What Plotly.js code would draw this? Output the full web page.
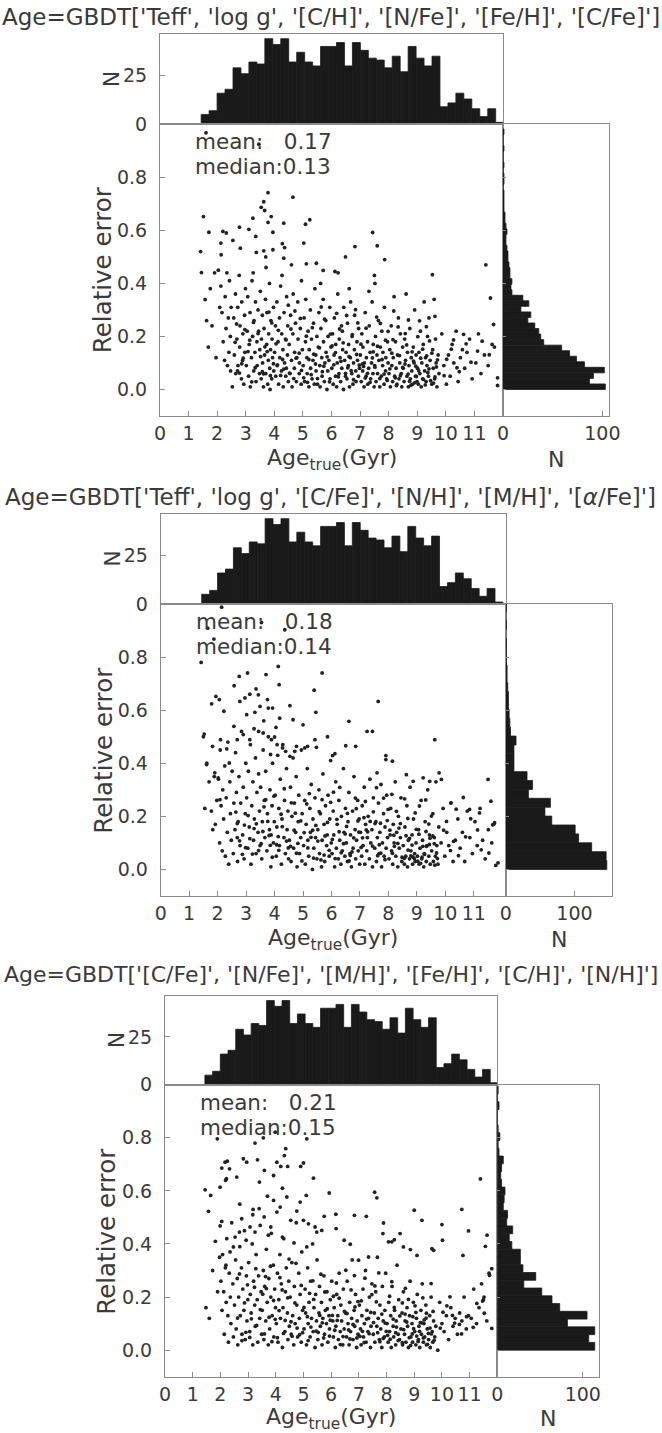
<!DOCTYPE html>
<html><head><meta charset="utf-8">
<script src="https://cdn.plot.ly/plotly-3.0.1.min.js"></script>
<style>html,body{margin:0;padding:0;background:#fff}#chart{width:662px;height:1433px}</style>
</head><body><div id="chart"></div>
<script>
// ---------------- DATA ----------------
const title1 = "Age=GBDT['Teff', 'log g', '[C/H]', '[N/Fe]', '[Fe/H]', '[C/Fe]']";
const title2 = "Age=GBDT['Teff', 'log g', '[C/Fe]', '[N/H]', '[M/H]', '[<i>α</i>/Fe]']";
const title3 = "Age=GBDT['[C/Fe]', '[N/Fe]', '[M/H]', '[Fe/H]', '[C/H]', '[N/H]']";
const meanText = ["0.17", "0.18", "0.21"];
const medianText = ["0.13", "0.14", "0.15"];
const ageTicks = [0,1,2,3,4,5,6,7,8,9,10,11];
const errTicks = [0.0,0.2,0.4,0.6,0.8];
const topHistTicks = [0,25];
const sideHistTicks = [0,100];

// true-age histogram (same sample in all panels)
const ageBinStart = 1.44, ageBinWidth = 0.2785;
const ageCounts = [5,7,16,18,29,26,32,31,44,41,44,32,37,32,30,40,40,42,30,42,38,34,33,29,35,27,40,34,30,35,9,11,16,13,8,4,8,1];

// relative-error histograms (bins start at 0)
const errBinWidth1 = 0.0209;
const errCounts1 = [103,87,91,102,82,74,67,59,41,38,36,32,25,28,18,26,20,9,8,9,7,7,6,5,5,4,3,3,4,3,2,2,1,1,1,1,0,1,1,0,1,0,0,1,0,0,1];
const errBinWidth2 = 0.0335;
const errCounts2 = [147,146,125,106,101,67,57,65,33,39,31,12,12,12,15,7,6,5,4,4,3,2,2,1,1,1,0,1,0,1];
const errBinWidth3 = 0.02925;
const errCounts3 = [114,107,114,82,105,73,64,52,31,45,30,27,27,17,14,18,11,12,7,8,9,5,4,5,7,2,1,3,1,0,0,2,0,1];

// scatter points [Age_true, relative error]
const panel1Points = [
[1.61,.968],[3.46,.925],[3.78,.742],[3.63,.708],[3.54,.687],[3.66,.675],[4.65,.725],[1.52,.652],[3.25,.646],[3.89,.652],[5.24,.640],[5.09,.623],[4.33,.627],[3.78,.630],[1.71,.593],[2.20,.596],[2.32,.590],[2.78,.612],[3.11,.604],[3.95,.593],[7.44,.592],[1.42,.520],[1.45,.441],[1.58,.339],[6.82,.539],[7.60,.542],[7.86,.490],[6.49,.500],[11.40,.470],[9.53,.433],[7.50,.430],[7.52,.400],[5.03,.552],[4.28,.550],[4.36,.535],[3.35,.577],[2.13,.552],[2.55,.562],[2.81,.533],[3.37,.517],[3.63,.523],[3.95,.527],[3.70,.500],[4.33,.495],[2.14,.508],[5.12,.474],[5.47,.476],[6.12,.445],[5.71,.449],[11.56,.345],[11.67,.245],[11.81,.044],[11.81,.015],
[1.63,.26],[1.76,.38],[1.82,.24],[1.69,.16],[1.91,.44],[1.96,.12],
[2.04,.45],[2.09,.31],[2.13,.39],[2.17,.29],[2.21,.18],[2.26,.11],[2.28,.35],[2.31,.23],[2.34,.44],[2.36,.09],[2.39,.27],[2.41,.14],[2.43,.41],[2.46,.20],[2.47,.07],[2.49,.31],
[2.53,.01],[2.58,.27],[2.60,.13],[2.64,.36],[2.65,.06],[2.69,.19],[2.72,.31],[2.73,.09],[2.77,.43],[2.79,.16],[2.80,.24],[2.85,.04],[2.86,.33],[2.89,.11],[2.90,.21],[2.93,.02],[2.96,.28],[2.97,.14],[2.99,.38],[2.71,.07],
[3.02,.09],[3.05,.22],[3.07,.35],[3.10,.05],[3.12,.17],[3.15,.29],[3.16,.01],[3.20,.12],[3.22,.41],[3.24,.20],[3.28,.07],[3.29,.26],[3.32,.14],[3.34,.33],[3.36,.03],[3.39,.18],[3.40,.09],[3.43,.30],[3.45,.22],[3.48,.06],[3.49,.15],[3.26,.44],
[3.51,.37],[3.54,.04],[3.55,.19],[3.58,.28],[3.59,.10],[3.62,.01],[3.64,.23],[3.66,.13],[3.69,.34],[3.70,.06],[3.73,.17],[3.74,.29],[3.77,.02],[3.79,.11],[3.80,.21],[3.83,.40],[3.84,.08],[3.87,.15],[3.88,.26],[3.91,.04],[3.92,.19],[3.94,.12],[3.97,.31],[3.98,.07],[3.71,.46],[3.85,.00],
[4.01,.14],[4.04,.24],[4.05,.05],[4.09,.33],[4.10,.09],[4.13,.18],[4.15,.02],[4.18,.27],[4.19,.12],[4.22,.39],[4.25,.07],[4.26,.21],[4.30,.15],[4.31,.01],[4.34,.29],[4.36,.10],[4.39,.19],[4.40,.05],[4.43,.35],[4.46,.13],[4.47,.24],[4.49,.03],[4.27,.43],[4.42,.08],
[4.52,.17],[4.55,.06],[4.57,.28],[4.60,.11],[4.62,.01],[4.65,.21],[4.66,.36],[4.70,.08],[4.71,.14],[4.74,.25],[4.77,.03],[4.79,.12],[4.82,.33],[4.83,.19],[4.87,.06],[4.88,.10],[4.91,.23],[4.94,.02],[4.95,.41],[4.98,.15],[4.60,.47],
[5.01,.09],[5.04,.27],[5.06,.03],[5.09,.18],[5.10,.34],[5.14,.12],[5.15,.06],[5.18,.22],[5.21,.01],[5.22,.15],[5.26,.30],[5.27,.08],[5.30,.19],[5.32,.04],[5.35,.11],[5.37,.25],[5.40,.02],[5.42,.38],[5.45,.13],[5.46,.07],[5.49,.20],
[5.51,.02],[5.54,.16],[5.56,.29],[5.59,.09],[5.60,.01],[5.63,.23],[5.66,.12],[5.67,.05],[5.71,.34],[5.72,.18],[5.75,.03],[5.77,.10],[5.80,.26],[5.81,.14],[5.84,.00],[5.87,.07],[5.88,.20],[5.91,.11],[5.94,.31],[5.95,.04],[5.98,.16],[5.62,.40],
[6.01,.08],[6.04,.21],[6.06,.02],[6.09,.13],[6.10,.27],[6.14,.05],[6.15,.17],[6.18,.01],[6.20,.10],[6.22,.36],[6.26,.06],[6.27,.19],[6.30,.12],[6.32,.03],[6.35,.24],[6.36,.08],[6.39,.15],[6.42,.00],[6.43,.31],[6.46,.11],[6.49,.05],[6.23,.44],[6.38,.22],
[6.51,.14],[6.54,.04],[6.56,.25],[6.59,.09],[6.60,.17],[6.63,.01],[6.66,.12],[6.67,.33],[6.71,.06],[6.72,.20],[6.75,.02],[6.77,.10],[6.80,.15],[6.81,.28],[6.85,.07],[6.86,.03],[6.89,.18],[6.91,.11],[6.94,.05],[6.95,.23],[6.98,.08],[6.62,.38],
[7.01,.13],[7.04,.03],[7.06,.21],[7.09,.07],[7.10,.16],[7.14,.01],[7.15,.10],[7.18,.29],[7.21,.05],[7.22,.12],[7.26,.18],[7.27,.02],[7.30,.08],[7.32,.24],[7.35,.14],[7.37,.04],[7.40,.10],[7.42,.33],[7.45,.06],[7.46,.17],[7.49,.01],[7.31,.37],
[7.51,.09],[7.54,.20],[7.56,.03],[7.59,.13],[7.61,.06],[7.64,.26],[7.66,.11],[7.69,.01],[7.71,.16],[7.74,.05],[7.76,.22],[7.79,.09],[7.80,.14],[7.84,.02],[7.85,.31],[7.89,.07],[7.90,.12],[7.93,.04],[7.96,.18],[7.98,.10],
[8.01,.06],[8.04,.15],[8.06,.01],[8.09,.24],[8.11,.09],[8.14,.03],[8.16,.12],[8.19,.35],[8.21,.05],[8.24,.18],[8.26,.08],[8.29,.02],[8.31,.13],[8.34,.27],[8.36,.04],[8.39,.10],[8.41,.21],[8.44,.06],[8.46,.01],[8.49,.16],
[8.51,.08],[8.54,.03],[8.56,.19],[8.59,.11],[8.61,.36],[8.64,.05],[8.66,.14],[8.69,.01],[8.71,.09],[8.74,.23],[8.76,.04],[8.79,.12],[8.81,.07],[8.84,.02],[8.86,.16],[8.89,.10],[8.91,.30],[8.94,.05],[8.96,.13],[8.99,.03],
[9.01,.08],[9.04,.02],[9.06,.14],[9.09,.06],[9.11,.22],[9.14,.01],[9.16,.10],[9.19,.04],[9.21,.17],[9.24,.33],[9.26,.07],[9.29,.12],[9.31,.03],[9.34,.09],[9.36,.20],[9.39,.05],[9.41,.27],[9.45,.11],
[9.51,.02],[9.54,.15],[9.56,.08],[9.59,.34],[9.61,.04],[9.64,.19],[9.66,.10],[9.69,.01],[9.73,.13],[9.76,.06],
[9.86,.21],[9.93,.09],[10.02,.02],[10.09,.13],[10.15,.05],[10.22,.17],[10.28,.10],[10.36,.22],[10.43,.03],[10.51,.12],[10.58,.15],[10.66,.08],[10.74,.14],[10.83,.19],[10.92,.04],
[11.05,.10],[11.14,.21],[11.23,.06],[11.35,.13],[11.48,.09],[11.62,.17],[11.70,.16],
[3.33,.082],[4.87,.137],[6.24,.048],[7.77,.113],[8.92,.026],[9.37,.064],[5.58,.157],[2.91,.118],[4.11,.093],[6.69,.071],[8.23,.044],[9.12,.118],[3.67,.161],[5.93,.029],[7.12,.087],[8.68,.058],[9.47,.033],[4.53,.062],[6.88,.132],[8.04,.078],[3.08,.143],[5.29,.056],[7.43,.119],[9.62,.047],[4.29,.113],[6.02,.164],[8.57,.096],[3.86,.052],[5.73,.088],[7.95,.034],[9.05,.071],[2.63,.178],[4.68,.041],[6.33,.106],[8.38,.128],[9.28,.017],[3.52,.124],[5.12,.201],[6.77,.037],[8.82,.142],[4.95,.072],[7.26,.061],[9.67,.085],[3.21,.029],[5.44,.096],[7.61,.163],[8.97,.049],[4.06,.172],[6.57,.082],[8.15,.188],[9.41,.078],[2.78,.062],[5.03,.044],[7.03,.171],[8.73,.031],[3.97,.097],[6.14,.139],[7.84,.058],[9.19,.152],[4.41,.187],[5.85,.123],[7.35,.027],[8.49,.083],[3.43,.211],[5.68,.067],[6.97,.092],[8.87,.107],[9.57,.024],[4.76,.118],[6.41,.176],[8.27,.015],[3.14,.186],[5.38,.133],[7.18,.043],[9.33,.127],[4.22,.053],[6.61,.124],[8.63,.168],[2.86,.097],[5.16,.027],[7.52,.084],[9.02,.199],[3.75,.143],[6.08,.093],[7.69,.041],[8.95,.088],[4.58,.228],[6.49,.061],[8.11,.137],[9.71,.112],[3.58,.067],[5.51,.041],[7.89,.186],[9.22,.038],[4.33,.077],[6.73,.207],[8.41,.052],[2.97,.226],[5.21,.113],[7.08,.096],[8.78,.016],[9.51,.137],[3.91,.251],[5.96,.209],[7.46,.142],[8.33,.236],[4.91,.268],[6.28,.228],[7.98,.219],[9.43,.183],[3.62,.059],[5.76,.265],[6.92,.251],[8.58,.211],[4.14,.223],[5.33,.233],[7.58,.273],[9.08,.259],[3.27,.253],[4.72,.296],[6.18,.287],[7.21,.231],[8.69,.262],[3.81,.292],[5.64,.311],[6.84,.301],[8.18,.296],[9.32,.237],[2.68,.247],[4.49,.318],[6.53,.279],[7.71,.249],[9.62,.276],[10.03,.114],[10.47,.067],[10.71,.172],[10.19,.152],[10.88,.103],[11.11,.145],[10.39,.082],[11.27,.182],[10.62,.208],[11.52,.131],[9.94,.052],[10.27,.187]
];

const panel2Points = [
[1.42,.78],[1.50,.50],[1.53,.51],[1.79,.624],[1.94,.652],[2.06,.64],[2.22,.596],[2.10,.489],[2.58,.692],[2.76,.727],[3.05,.74],[3.35,.68],[3.43,.658],[3.70,.734],[4.13,.765],[4.16,.696],[3.78,.608],[3.93,.608],[4.54,.617],[5.67,.74],[5.39,.675],[5.45,.592],[6.61,.558],[7.64,.633],[7.25,.52],[7.44,.52],[9.63,.489],[4.65,.564],[5.00,.545],[5.86,.50],[7.91,.429],[8.14,.408],[11.50,.339],[11.60,.257],[11.73,.176],[11.66,.168],[11.85,.025],[11.77,.015],[1.65,.909],[3.54,.93],[2.14,.988],[1.87,.868],[4.36,.903],
[2.78,.633],[2.96,.646],[3.13,.66],[3.02,.583],[3.31,.592],[3.49,.614],[3.75,.64],[4.54,.426],[4.77,.464],[4.71,.445],[5.06,.458],[5.16,.464],[5.42,.489],[6.04,.429],[6.12,.436],[6.50,.466],[6.85,.464],[7.91,.414],[7.60,.364],[8.63,.357],[8.87,.332],[9.22,.345],[9.45,.332],[9.78,.364],[9.86,.339],[10.20,.251],[10.85,.226],[11.20,.213],[1.61,.395],[1.82,.464],[1.90,.364],[2.02,.345],[2.08,.263],[2.32,.454],[2.41,.401],[2.57,.539],[2.69,.489],[2.90,.508],[3.13,.489],[3.44,.52],[3.60,.514],[3.89,.489],[4.00,.499],[4.09,.47],[4.28,.458],[4.39,.445],[3.86,.433],[4.05,.535],
[1.55,.23],[1.62,.40],[1.70,.33],[1.78,.22],[1.83,.15],[1.88,.35],[1.92,.17],[1.97,.26],
[2.03,.34],[2.07,.10],[2.09,.45],[2.12,.24],[2.16,.07],[2.18,.30],[2.21,.19],[2.25,.39],[2.27,.05],[2.30,.27],[2.34,.14],[2.36,.48],[2.39,.02],[2.43,.33],[2.45,.21],[2.48,.11],
[2.51,.37],[2.55,.06],[2.57,.25],[2.61,.15],[2.63,.44],[2.66,.29],[2.70,.03],[2.72,.18],[2.75,.35],[2.79,.09],[2.81,.25],[2.84,.52],[2.88,.13],[2.90,.31],[2.93,.04],[2.97,.21],[2.99,.40],[2.69,.12],
[3.02,.27],[3.06,.08],[3.08,.37],[3.11,.16],[3.15,.47],[3.17,.02],[3.20,.24],[3.24,.33],[3.26,.11],[3.29,.19],[3.33,.42],[3.35,.06],[3.38,.29],[3.42,.14],[3.44,.36],[3.47,.22],[3.49,.09],[3.28,.53],
[3.51,.31],[3.55,.04],[3.57,.18],[3.60,.45],[3.64,.26],[3.66,.12],[3.69,.37],[3.73,.07],[3.75,.21],[3.78,.50],[3.82,.15],[3.84,.30],[3.87,.01],[3.91,.24],[3.93,.40],[3.96,.10],[3.99,.18],[3.62,.56],[3.88,.13],
[4.02,.28],[4.06,.05],[4.08,.16],[4.11,.43],[4.15,.23],[4.17,.09],[4.20,.34],[4.24,.02],[4.26,.19],[4.29,.47],[4.33,.12],[4.35,.26],[4.38,.06],[4.42,.38],[4.44,.15],[4.47,.22],[4.49,.04],[4.18,.57],
[4.52,.11],[4.56,.31],[4.58,.03],[4.61,.20],[4.65,.42],[4.67,.08],[4.70,.25],[4.74,.14],[4.76,.35],[4.79,.01],[4.83,.18],[4.85,.28],[4.88,.06],[4.92,.12],[4.94,.45],[4.97,.21],
[5.02,.09],[5.06,.26],[5.08,.02],[5.11,.17],[5.15,.38],[5.17,.11],[5.20,.05],[5.24,.23],[5.26,.14],[5.29,.32],[5.33,.00],[5.35,.19],[5.38,.08],[5.42,.27],[5.44,.12],[5.47,.46],[5.49,.04],
[5.52,.15],[5.56,.30],[5.58,.06],[5.61,.21],[5.65,.01],[5.67,.11],[5.70,.36],[5.74,.17],[5.76,.03],[5.79,.24],[5.83,.09],[5.85,.13],[5.88,.28],[5.92,.05],[5.94,.19],[5.97,.41],[5.99,.10],
[6.02,.06],[6.06,.22],[6.08,.13],[6.11,.01],[6.15,.33],[6.17,.08],[6.20,.17],[6.24,.04],[6.26,.26],[6.29,.11],[6.33,.02],[6.35,.20],[6.38,.07],[6.42,.38],[6.44,.14],[6.47,.05],[6.49,.23],
[6.52,.10],[6.56,.03],[6.58,.18],[6.61,.29],[6.65,.06],[6.67,.13],[6.70,.01],[6.74,.22],[6.76,.08],[6.79,.35],[6.83,.15],[6.85,.04],[6.88,.11],[6.92,.26],[6.94,.07],[6.97,.19],[6.99,.02],
[7.02,.14],[7.06,.05],[7.08,.24],[7.11,.09],[7.15,.31],[7.17,.02],[7.20,.17],[7.24,.07],[7.26,.12],[7.29,.20],[7.33,.04],[7.35,.34],[7.38,.10],[7.42,.15],[7.44,.01],[7.47,.27],
[7.52,.08],[7.56,.18],[7.58,.03],[7.61,.12],[7.65,.25],[7.67,.06],[7.70,.14],[7.74,.32],[7.76,.01],[7.79,.10],[7.83,.21],[7.85,.05],[7.88,.16],[7.92,.08],[7.94,.28],[7.97,.12],
[8.02,.04],[8.06,.13],[8.08,.23],[8.11,.07],[8.15,.02],[8.17,.17],[8.20,.10],[8.24,.33],[8.26,.05],[8.29,.14],[8.33,.01],[8.35,.20],[8.38,.08],[8.42,.12],[8.44,.27],[8.47,.03],
[8.52,.09],[8.56,.02],[8.58,.16],[8.61,.05],[8.65,.24],[8.67,.01],[8.70,.11],[8.74,.04],[8.76,.31],[8.79,.07],[8.83,.13],[8.85,.02],[8.88,.19],[8.92,.06],[8.94,.03],[8.97,.10],
[9.02,.05],[9.06,.15],[9.08,.02],[9.11,.08],[9.15,.26],[9.17,.04],[9.20,.11],[9.24,.01],[9.26,.06],[9.29,.18],[9.33,.03],[9.35,.09],[9.38,.30],[9.42,.05],[9.44,.13],[9.47,.02],
[9.52,.07],[9.56,.21],[9.58,.03],[9.61,.12],[9.65,.05],[9.67,.33],[9.70,.09],[9.74,.02],[9.77,.16],
[9.85,.10],[9.92,.23],[9.98,.05],[10.05,.14],[10.12,.09],[10.19,.25],[10.27,.03],[10.35,.11],[10.44,.19],[10.52,.08],[10.60,.14],[10.68,.03],[10.77,.22],[10.86,.12],[10.95,.06],
[11.04,.18],[11.12,.09],[11.22,.23],[11.31,.11],[11.40,.04],[11.51,.15],[11.63,.10],[11.70,.17],
[3.36,.172],[4.82,.098],[6.27,.142],[7.73,.061],[8.91,.041],[9.34,.087],[5.57,.218],[2.94,.167],[4.13,.124],[6.66,.053],[8.21,.087],[9.13,.023],[3.69,.263],[5.92,.072],[7.14,.195],[8.69,.073],[9.46,.118],[4.56,.087],[6.87,.229],[8.05,.148],[3.07,.203],[5.28,.121],[7.44,.088],[9.63,.016],[4.27,.161],[6.03,.113],[8.56,.042],[3.85,.091],[5.74,.054],[7.96,.184],[9.07,.133],[2.64,.216],[4.69,.148],[6.34,.063],[8.37,.156],[9.27,.057],[3.53,.097],[5.13,.247],[6.78,.119],[8.83,.092],[4.96,.032],[7.27,.142],[9.69,.062],[3.22,.058],[5.45,.166],[7.62,.052],[8.98,.151],[4.07,.093],[6.56,.211],[8.14,.061],[9.42,.171],[2.77,.108],[5.04,.139],[7.04,.083],[8.74,.117],[3.98,.276],[6.13,.041],[7.83,.269],[9.18,.046],[4.42,.107],[5.86,.177],[7.36,.181],[8.48,.046],[3.44,.071],[5.67,.263],[6.96,.141],[8.86,.047],[9.56,.126],[4.77,.061],[6.42,.097],[8.28,.219],[3.13,.116],[5.37,.043],[7.19,.256],[9.32,.143],[4.23,.208],[6.62,.032],[8.62,.127],[2.87,.057],[5.17,.081],[7.53,.173],[9.03,.031],[3.76,.181],[6.07,.291],[7.68,.093],[8.94,.213],[4.59,.251],[6.48,.134],[8.12,.283],[9.72,.041],[3.59,.143],[5.52,.107],[7.88,.037],[9.21,.087],[4.34,.304],[6.72,.066],[8.42,.173],[2.98,.082],[5.22,.286],[7.09,.119],[8.79,.051],[9.51,.201],[3.92,.046],[5.97,.253],[7.47,.217],[8.33,.098],[4.92,.183],[6.29,.309],[7.99,.226],[9.44,.094],[3.63,.236],[5.77,.126],[6.93,.183],[8.57,.266],[4.15,.072],[5.34,.148],[7.58,.308],[9.09,.239],[3.28,.154],[4.73,.212],[6.19,.189],[7.22,.149],[8.68,.192],[3.81,.128],[5.63,.036],[6.84,.269],[8.19,.129],[9.31,.262],[2.69,.173],[4.48,.081],[6.53,.162],[7.72,.174],[9.61,.097],[10.04,.181],[10.46,.052],[10.71,.123],[10.18,.071],[10.89,.191],[11.13,.149],[10.38,.227],[11.26,.074],[10.63,.271],[11.53,.062],[9.94,.148],[10.29,.106]
];

const panel3Points = [
[1.45,.604],[1.65,.583],[1.57,.523],[1.99,.614],[2.05,.686],[2.17,.708],[2.25,.712],[2.33,.683],[1.99,.468],[2.05,.485],[2.19,.64],[2.22,.646],[2.59,.652],[2.83,.721],[2.95,.708],[3.25,.78],[3.34,.717],[3.55,.80],[3.41,.633],[3.59,.677],[4.04,.708],[4.18,.692],[4.31,.733],[4.36,.759],[4.43,.692],[3.92,.658],[3.98,.821],[4.90,.692],[5.00,.705],[5.12,.796],[1.89,.796],[5.36,.648],[5.10,.583],[5.93,.592],[6.17,.512],[5.75,.504],[6.84,.508],[7.27,.504],[7.57,.595],[7.65,.574],[7.89,.479],[9.00,.527],[9.28,.489],[10.00,.473],[10.72,.53],[10.96,.449],[10.76,.357],[11.39,.645],[11.63,.433],[11.57,.391],[11.80,.307],[11.72,.282],[11.80,.082],[11.50,.19],[11.47,.185],[8.07,.408],[8.49,.439],[8.28,.416],
[2.20,.32],[2.35,.37],[2.47,.389],[2.53,.426],[2.69,.445],[2.77,.495],[2.93,.414],[3.07,.464],[3.17,.51],[3.25,.445],[3.40,.533],[3.58,.502],[3.73,.433],[3.82,.464],[3.92,.564],[4.04,.52],[4.16,.539],[4.24,.426],[4.40,.577],[4.54,.489],[4.66,.404],[4.76,.524],[4.88,.558],[5.00,.489],[5.12,.389],[5.18,.476],[5.42,.464],[5.48,.445],[5.66,.451],[6.18,.458],[6.47,.414],[6.69,.399],[6.99,.339],[7.35,.351],[7.87,.439],[8.19,.408],[8.61,.389],[8.86,.379],[9.10,.357],[9.64,.382],[9.70,.376],[10.02,.414],
[1.48,.16],[1.60,.12],[1.72,.30],[1.82,.41],[1.90,.22],[1.97,.35],
[2.02,.26],[2.06,.15],[2.08,.36],[2.12,.22],[2.14,.06],[2.18,.31],[2.21,.18],[2.23,.42],[2.27,.13],[2.29,.03],[2.32,.29],[2.36,.20],[2.38,.10],[2.41,.48],[2.45,.25],[2.47,.05],
[2.51,.17],[2.55,.34],[2.57,.08],[2.61,.27],[2.63,.02],[2.66,.20],[2.70,.39],[2.72,.13],[2.76,.31],[2.78,.06],[2.81,.23],[2.85,.15],[2.87,.45],[2.90,.04],[2.94,.28],[2.96,.11],[2.99,.19],[2.70,.55],
[3.02,.33],[3.06,.07],[3.08,.21],[3.11,.14],[3.15,.40],[3.17,.02],[3.20,.26],[3.24,.17],[3.26,.09],[3.29,.36],[3.33,.19],[3.35,.03],[3.38,.28],[3.42,.12],[3.44,.47],[3.47,.22],[3.49,.06],[3.18,.53],
[3.51,.15],[3.55,.30],[3.57,.04],[3.60,.24],[3.64,.11],[3.66,.38],[3.69,.18],[3.73,.02],[3.75,.27],[3.78,.08],[3.82,.20],[3.84,.44],[3.87,.13],[3.91,.32],[3.93,.05],[3.96,.23],[3.99,.16],[3.70,.58],
[4.02,.10],[4.06,.29],[4.08,.03],[4.11,.19],[4.15,.36],[4.17,.12],[4.20,.25],[4.24,.01],[4.26,.16],[4.29,.42],[4.33,.07],[4.35,.22],[4.38,.31],[4.42,.14],[4.44,.04],[4.47,.26],[4.49,.09],[4.24,.61],
[4.52,.20],[4.56,.06],[4.58,.33],[4.61,.13],[4.65,.02],[4.67,.24],[4.70,.10],[4.74,.48],[4.76,.17],[4.79,.05],[4.83,.29],[4.85,.12],[4.88,.21],[4.92,.03],[4.94,.37],[4.97,.15],
[5.02,.08],[5.06,.23],[5.08,.14],[5.11,.02],[5.15,.31],[5.17,.10],[5.20,.18],[5.24,.05],[5.26,.26],[5.29,.12],[5.33,.40],[5.35,.07],[5.38,.16],[5.42,.01],[5.44,.21],[5.47,.11],[5.49,.34],
[5.52,.04],[5.56,.14],[5.58,.24],[5.61,.09],[5.65,.18],[5.67,.02],[5.70,.12],[5.74,.28],[5.76,.06],[5.79,.15],[5.83,.10],[5.85,.22],[5.88,.03],[5.92,.13],[5.94,.08],[5.97,.19],
[6.02,.26],[6.06,.11],[6.08,.05],[6.11,.16],[6.15,.01],[6.17,.09],[6.20,.21],[6.24,.13],[6.26,.04],[6.29,.29],[6.33,.07],[6.35,.17],[6.38,.11],[6.42,.02],[6.44,.23],[6.47,.08],
[6.52,.14],[6.56,.05],[6.58,.26],[6.61,.10],[6.65,.02],[6.67,.18],[6.70,.07],[6.74,.12],[6.76,.34],[6.79,.04],[6.83,.15],[6.85,.09],[6.88,.21],[6.92,.01],[6.94,.11],[6.97,.06],
[7.02,.17],[7.06,.08],[7.08,.02],[7.11,.13],[7.15,.23],[7.17,.05],[7.20,.10],[7.24,.30],[7.26,.03],[7.29,.15],[7.33,.07],[7.35,.12],[7.38,.20],[7.42,.01],[7.44,.09],[7.47,.25],
[7.52,.06],[7.56,.14],[7.58,.03],[7.61,.22],[7.65,.09],[7.67,.35],[7.70,.12],[7.74,.04],[7.76,.17],[7.79,.08],[7.83,.01],[7.85,.24],[7.88,.11],[7.92,.05],[7.94,.15],[7.97,.29],
[8.02,.10],[8.06,.03],[8.08,.18],[8.11,.07],[8.15,.13],[8.17,.01],[8.20,.24],[8.24,.09],[8.26,.05],[8.29,.15],[8.33,.02],[8.35,.11],[8.38,.32],[8.42,.06],[8.44,.19],[8.47,.04],
[8.52,.08],[8.56,.14],[8.58,.02],[8.61,.22],[8.65,.06],[8.67,.11],[8.70,.03],[8.74,.16],[8.76,.09],[8.79,.01],[8.83,.13],[8.85,.26],[8.88,.05],[8.92,.10],[8.94,.03],[8.97,.18],
[9.02,.07],[9.06,.02],[9.08,.12],[9.11,.21],[9.15,.04],[9.17,.09],[9.20,.01],[9.24,.15],[9.26,.06],[9.29,.25],[9.33,.03],[9.35,.10],[9.38,.05],[9.42,.17],[9.44,.02],[9.47,.08],
[9.52,.04],[9.56,.13],[9.58,.01],[9.61,.20],[9.65,.07],[9.67,.03],[9.70,.11],[9.74,.05],[9.78,.09],[9.85,.00],
[9.92,.18],[10.00,.10],[10.08,.07],[10.16,.13],[10.24,.04],[10.32,.16],[10.40,.09],[10.48,.12],[10.56,.06],[10.64,.14],[10.72,.11],[10.80,.20],[10.88,.08],[10.96,.13],
[11.06,.12],[11.15,.23],[11.25,.10],[11.34,.16],[11.43,.25],[11.52,.20],[11.62,.11],[11.70,.29],
[3.31,.093],[4.86,.058],[6.22,.112],[7.76,.032],[8.93,.061],[9.36,.114],[5.59,.131],[2.92,.067],[4.12,.149],[6.68,.042],[8.24,.117],[9.14,.033],[3.66,.232],[5.94,.053],[7.13,.071],[8.67,.136],[9.48,.022],[4.55,.107],[6.86,.163],[8.04,.056],[3.06,.048],[5.27,.087],[7.43,.142],[9.62,.061],[4.28,.063],[6.04,.131],[8.57,.028],[3.86,.032],[5.73,.046],[7.95,.102],[9.06,.142],[2.62,.121],[4.69,.178],[6.33,.021],[8.36,.087],[9.27,.103],[3.53,.211],[5.14,.126],[6.79,.097],[8.82,.047],[4.97,.066],[7.28,.117],[9.68,.146],[3.23,.237],[5.46,.072],[7.63,.182],[8.98,.081],[4.06,.047],[6.57,.138],[8.13,.041],[9.43,.121],[2.78,.036],[5.02,.161],[7.04,.052],[8.73,.106],[3.98,.116],[6.13,.075],[7.83,.136],[9.19,.071],[4.43,.197],[5.86,.156],[7.37,.062],[8.48,.129],[3.44,.153],[5.68,.103],[6.97,.183],[8.87,.018],[9.57,.083],[4.77,.083],[6.43,.051],[8.28,.161],[3.12,.118],[5.37,.191],[7.19,.028],[9.33,.046],[4.23,.227],[6.63,.076],[8.62,.077],[2.87,.178],[5.17,.036],[7.53,.104],[9.03,.167],[3.76,.124],[6.08,.203],[7.68,.066],[8.95,.126],[4.59,.052],[6.48,.146],[8.11,.203],[9.72,.037],[3.59,.061],[5.53,.067],[7.88,.044],[9.22,.104],[4.34,.112],[6.72,.227],[8.42,.036],[2.98,.246],[5.22,.214],[7.09,.186],[8.79,.191],[9.51,.063],[3.92,.187],[5.97,.113],[7.47,.209],[8.33,.066],[4.92,.244],[6.29,.196],[7.99,.071],[9.44,.139],[3.63,.277],[5.77,.219],[6.93,.046],[8.57,.178],[4.15,.273],[5.34,.261],[7.58,.242],[9.09,.053],[3.28,.307],[4.73,.327],[6.19,.253],[7.22,.271],[8.68,.233],[3.81,.316],[5.63,.286],[6.84,.281],[8.19,.258],[9.31,.197],[2.69,.287],[4.48,.343],[6.53,.301],[7.72,.291],[9.61,.251],[10.04,.143],[10.46,.102],[10.71,.061],[10.18,.167],[10.89,.126],[11.13,.086],[10.38,.131],[11.26,.176],[10.63,.097],[11.53,.139],[9.94,.083],[10.29,.201]
];

// ---------------- LAYOUT / DRAWING ----------------
const W = 662, H = 1433;
const px = v => v / W, py = v => 1 - v / H;
const textC = '#3a3a3a', lineC = '#8a8a8a', barC = '#1a1a1a', dotC = '#222222';
const FONT = 'DejaVu Sans';

const panels = [
  {title: title1, titleSize: 23.0, points: panel1Points, errCounts: errCounts1, errW: errBinWidth1, xlabOff: 43,
   g: {L:160, R:503, RH:609.3, T:34, M:124.3, B:416, xMax:12.0, nMax:107, titleY:17}},
  {title: title2, titleSize: 23.0, points: panel2Points, errCounts: errCounts2, errW: errBinWidth2, xlabOff: 43,
   g: {L:160.7, R:505.7, RH:612.3, T:514, M:604, B:896, xMax:12.12, nMax:155, titleY:497}},
  {title: title3, titleSize: 22.0, points: panel3Points, errCounts: errCounts3, errW: errBinWidth3, xlabOff: 41.5,
   g: {L:165, R:497.3, RH:599, T:996, M:1084.7, B:1376.7, xMax:12.0, nMax:119, titleY:975}}
];

const data = [];
const layout = {
  width: W, height: H, margin: {l:0, r:0, t:0, b:0},
  paper_bgcolor: '#ffffff', plot_bgcolor: '#ffffff', showlegend: false,
  font: {family: FONT, color: textC}, annotations: []
};
const baseAxis = {
  showline: true, mirror: true, linecolor: lineC, linewidth: 1,
  ticks: 'inside', ticklen: 5, tickwidth: 1, tickcolor: lineC,
  zeroline: false, showgrid: false, fixedrange: true,
  tickfont: {family: FONT, size: 19, color: textC}
};
const sfx = n => (n === 1 ? '' : String(n));

panels.forEach((p, k) => {
  const g = p.g;
  const a = 3 * k + 1, b = 3 * k + 2, c = 3 * k + 3;

  // top histogram of true ages
  data.push({
    type: 'bar', x: ageCounts.map((_, i) => ageBinStart + ageBinWidth * (i + 0.5)), y: ageCounts,
    width: ageBinWidth, marker: {color: barC, line: {width: 0.8, color: barC}},
    xaxis: 'x' + sfx(a), yaxis: 'y' + sfx(a), hoverinfo: 'skip'
  });
  layout['xaxis' + sfx(a)] = Object.assign({}, baseAxis, {
    domain: [px(g.L), px(g.R)], range: [0, g.xMax], anchor: 'y' + sfx(a),
    showticklabels: false, ticks: ''
  });
  layout['yaxis' + sfx(a)] = Object.assign({}, baseAxis, {
    domain: [py(g.M), py(g.T)], range: [0, 46.4], anchor: 'x' + sfx(a),
    tickvals: topHistTicks, ticklabelstandoff: 8
  });

  // scatter
  data.push({
    type: 'scatter', mode: 'markers',
    x: p.points.map(d => d[0]), y: p.points.map(d => d[1]),
    marker: {color: dotC, size: 3.8, line: {width: 0}},
    xaxis: 'x' + sfx(b), yaxis: 'y' + sfx(b), hoverinfo: 'skip'
  });
  layout['xaxis' + sfx(b)] = Object.assign({}, baseAxis, {
    domain: [px(g.L), px(g.R)], range: [0, g.xMax], anchor: 'y' + sfx(b),
    tickvals: ageTicks, ticklabelstandoff: 0
  });
  layout['yaxis' + sfx(b)] = Object.assign({}, baseAxis, {
    domain: [py(g.B), py(g.M)], range: [-0.1, 1.0], anchor: 'x' + sfx(b),
    tickvals: errTicks, tickformat: '.1f', ticklabelstandoff: 8
  });

  // right histogram of relative error
  data.push({
    type: 'bar', orientation: 'h',
    y: p.errCounts.map((_, i) => p.errW * (i + 0.5)), x: p.errCounts,
    width: p.errW, marker: {color: barC, line: {width: 0.8, color: barC}},
    xaxis: 'x' + sfx(c), yaxis: 'y' + sfx(c), hoverinfo: 'skip'
  });
  layout['xaxis' + sfx(c)] = Object.assign({}, baseAxis, {
    domain: [px(g.R), px(g.RH)], range: [0, g.nMax], anchor: 'y' + sfx(c),
    tickvals: sideHistTicks, ticklabelstandoff: 0
  });
  layout['yaxis' + sfx(c)] = Object.assign({}, baseAxis, {
    domain: [py(g.B), py(g.M)], range: [-0.1, 1.0], anchor: 'x' + sfx(c),
    tickvals: errTicks, showticklabels: false, ticklen: 3
  });

  const ann = (text, x, y, opts) => layout.annotations.push(Object.assign({
    text: text, xref: 'paper', yref: 'paper', x: px(x), y: py(y),
    xanchor: 'center', yanchor: 'middle', showarrow: false, borderpad: 0,
    font: {family: FONT, size: 22, color: textC}
  }, opts || {}));

  ann(p.title, 330.5, g.titleY, {font: {family: FONT, size: p.titleSize, color: textC}});
  ann('mean:\u00a0\u00a0\u00a0' + meanText[k], g.L + 34, g.M + 17.5, {xanchor: 'left', font: {family: FONT, size: 21.5, color: textC}});
  ann('median:' + medianText[k], g.L + 34, g.M + 42.5, {xanchor: 'left', font: {family: FONT, size: 21.5, color: textC}});
  ann('Age<sub>true</sub>(Gyr)', (g.L + g.R) / 2, g.B + p.xlabOff);
  ann('N', (g.R + g.RH) / 2, g.B + p.xlabOff);
  ann('Relative error', g.L - 58, (g.M + g.B) / 2, {textangle: -90, font: {family: FONT, size: 24.5, color: textC}});
  ann('N', g.L - 49, (g.T + g.M) / 2, {textangle: -90, font: {family: FONT, size: 22, color: textC}});
});

Plotly.newPlot('chart', data, layout, {staticPlot: true, displayModeBar: false});
</script>
</body></html>
